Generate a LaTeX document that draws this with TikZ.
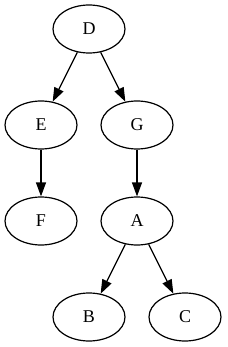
\documentclass[tikz,border=0pt]{standalone}
\usepackage{fontspec}
\setmainfont{Liberation Serif}
\usetikzlibrary{arrows.meta,shapes.geometric}
\begin{document}
\begin{tikzpicture}[x=1pt,y=-1pt,
  vert/.style={draw,ellipse,line width=1.2pt,minimum width=72pt,minimum height=48pt,inner sep=0pt,font=\fontsize{18}{18}\selectfont},
  edge/.style={line width=1.2pt,-{Triangle[length=14pt,width=10pt]}}]
\useasboundingbox (0,0) rectangle (227,347);
\node[vert] (D) at (89,29) {D};
\node[vert] (E) at (41,125) {E};
\node[vert] (G) at (137,125) {G};
\node[vert] (F) at (41,221) {F};
\node[vert] (A) at (137,221) {A};
\node[vert] (B) at (89,317) {B};
\node[vert] (C) at (185,317) {C};
\draw[edge] (D) -- (E);
\draw[edge] (D) -- (G);
\draw[edge] (E) -- (F);
\draw[edge] (G) -- (A);
\draw[edge] (A) -- (B);
\draw[edge] (A) -- (C);
\end{tikzpicture}
\end{document}
